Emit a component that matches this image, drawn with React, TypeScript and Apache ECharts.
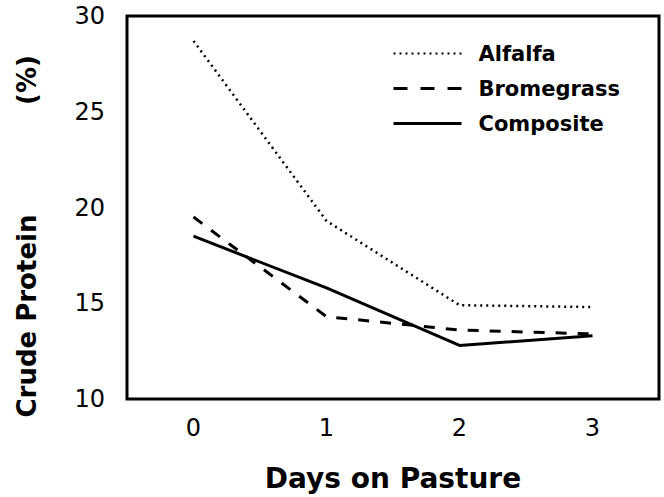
import React, { useEffect, useRef } from "react";
import * as echarts from "echarts";

const categories = ["0", "1", "2", "3"];
const alfalfa = [28.7, 19.3, 14.9, 14.8];
const bromegrass = [19.5, 14.3, 13.6, 13.4];
const composite = [18.5, 15.8, 12.8, 13.3];
const yTicks = { min: 10, max: 30, interval: 5 };
const yTitleMain = "Crude Protein";
const yTitleUnit = "(%)";
const xTitle = "Days on Pasture";

const FONT = "'DejaVu Sans', sans-serif";

export default function App() {
  const ref = useRef<HTMLDivElement>(null);
  useEffect(() => {
    if (!ref.current) return;
    const chart = echarts.init(ref.current, undefined, { renderer: "svg" });
    chart.setOption({
      animation: false,
      backgroundColor: "#fff",
      grid: {
        left: 127,
        right: 5,
        top: 16,
        bottom: 95,
        show: true,
        borderColor: "#000",
        borderWidth: 3,
        backgroundColor: "transparent",
      },
      legend: {
        orient: "vertical",
        left: 387,
        top: 38,
        itemWidth: 68,
        itemHeight: 14,
        itemGap: 14,
        itemStyle: { opacity: 0 },
        textStyle: {
          fontFamily: FONT,
          fontWeight: "bold",
          fontSize: 21,
          color: "#000",
          padding: [0, 0, 0, 12],
        },
        data: [
          { name: "Alfalfa", lineStyle: { type: [2, 4], width: 2 } },
          { name: "Bromegrass", lineStyle: { type: [14, 13], width: 3 } },
          { name: "Composite", lineStyle: { type: "solid", width: 3 } },
        ],
      },
      graphic: [
        {
          type: "text",
          x: 27,
          y: 316,
          rotation: Math.PI / 2,
          style: {
            text: yTitleMain,
            fontFamily: FONT,
            fontWeight: "bold",
            fontSize: 26,
            fill: "#000",
            textAlign: "center",
            textVerticalAlign: "middle",
          },
        },
        {
          type: "text",
          x: 27,
          y: 80,
          rotation: Math.PI / 2,
          style: {
            text: yTitleUnit,
            fontFamily: FONT,
            fontWeight: "bold",
            fontSize: 26,
            fill: "#000",
            textAlign: "center",
            textVerticalAlign: "middle",
          },
        },
      ],
      xAxis: {
        type: "category",
        data: categories,
        boundaryGap: true,
        axisLine: { show: false },
        axisTick: { show: false },
        axisLabel: {
          fontFamily: FONT,
          fontSize: 24,
          color: "#000",
          margin: 17,
        },
        name: xTitle,
        nameLocation: "middle",
        nameGap: 65,
        nameTextStyle: {
          fontFamily: FONT,
          fontWeight: "bold",
          fontSize: 28,
          color: "#000",
        },
      },
      yAxis: {
        type: "value",
        min: yTicks.min,
        max: yTicks.max,
        interval: yTicks.interval,
        axisLine: { show: false },
        axisTick: { show: false },
        splitLine: { show: false },
        axisLabel: {
          fontFamily: FONT,
          fontSize: 24,
          color: "#000",
          margin: 22,
        },
      },
      series: [
        {
          name: "Alfalfa",
          type: "line",
          data: alfalfa,
          symbol: "none",
          lineStyle: { color: "#000", width: 2.5, type: [2, 4] },
          itemStyle: { color: "#000" },
        },
        {
          name: "Bromegrass",
          type: "line",
          data: bromegrass,
          symbol: "none",
          lineStyle: { color: "#000", width: 3, type: [11, 11] },
          itemStyle: { color: "#000" },
        },
        {
          name: "Composite",
          type: "line",
          data: composite,
          symbol: "none",
          lineStyle: { color: "#000", width: 3, type: "solid" },
          itemStyle: { color: "#000" },
        },
      ],
    });
    return () => chart.dispose();
  }, []);
  return <div ref={ref} style={{ width: 664, height: 497, position: "absolute", left: 0, top: 0 }} />;
}
